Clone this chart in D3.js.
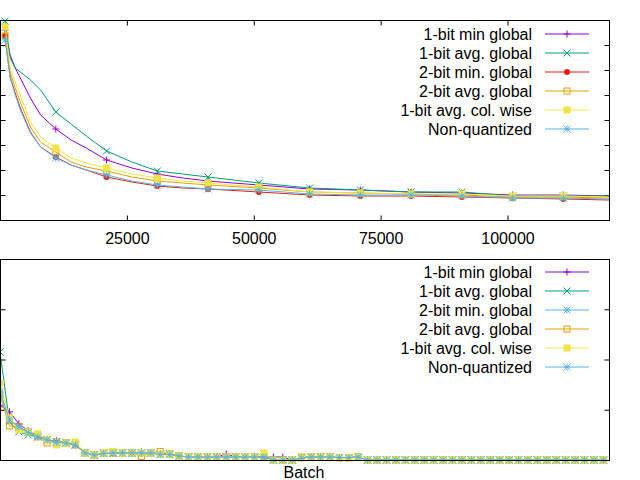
<!DOCTYPE html>
<html>
<head>
<meta charset="utf-8">
<script src="https://cdn.jsdelivr.net/npm/d3@7"></script>
<style>
  body { margin: 0; background: #fff; }
  svg { display: block; }
  text { font-family: "Liberation Sans", Arial, sans-serif; font-size: 16px; fill: #000; }
</style>
</head>
<body>
<svg id="chart"></svg>
<script>
// ---- data, top panel (x = batch) ----
const topBatch = [1000, 2000, 3000, 4000, 6000, 8000, 11000, 14000, 17000, 21000, 26000,
  31000, 36000, 41000, 51000, 61000, 71000, 81000, 91000, 101000, 111000, 120000];
const topMin1   = [7.60, 6.60, 6.08, 5.68, 4.88, 4.20, 3.64, 3.20, 2.88, 2.40, 2.08, 1.84, 1.68, 1.56, 1.40, 1.24, 1.20, 1.12, 1.08, 1.00, 1.00, 0.96];
const topAvg1   = [7.96, 6.48, 6.08, 5.92, 5.60, 5.20, 4.32, 3.84, 3.36, 2.76, 2.32, 1.96, 1.84, 1.72, 1.48, 1.28, 1.20, 1.12, 1.12, 0.96, 0.96, 0.96];
const topMin2   = [7.36, 5.72, 5.08, 4.48, 3.52, 2.92, 2.52, 2.20, 2.00, 1.72, 1.52, 1.36, 1.28, 1.24, 1.12, 1.00, 0.96, 0.96, 0.92, 0.88, 0.84, 0.80];
const topAvg2   = [7.36, 5.92, 5.28, 4.72, 3.72, 3.12, 2.72, 2.32, 2.12, 1.96, 1.72, 1.56, 1.48, 1.40, 1.28, 1.12, 1.08, 1.04, 1.00, 0.92, 0.92, 0.88];
const topCol1   = [7.72, 6.08, 5.52, 5.00, 3.92, 3.32, 2.88, 2.48, 2.28, 2.08, 1.84, 1.68, 1.56, 1.48, 1.32, 1.12, 1.08, 1.04, 1.04, 0.96, 0.96, 0.92];
const topNoQuant= [7.20, 5.68, 5.00, 4.40, 3.48, 2.92, 2.48, 2.20, 2.00, 1.80, 1.56, 1.40, 1.32, 1.24, 1.20, 1.04, 1.00, 1.00, 0.96, 0.88, 0.88, 0.84];
const topXTicks = [25000, 50000, 75000, 100000];
const topYTicks = [1, 2, 3, 4, 5, 6, 7];

// ---- data, bottom panel (one value per batch step) ----
const botMin1 = [1.09, 0.96, 0.72, 0.58, 0.48, 0.40, 0.38, 0.34, 0.30,
  0.14, 0.10, 0.14, 0.14, 0.14, 0.14, 0.16, 0.14, 0.12, 0.12,
  0.08, 0.06, 0.06, 0.06, 0.06, 0.12, 0.06, 0.06, 0.06, 0.06,
  0.06, 0.06, 0.00, 0.04, 0.06, 0.06, 0.06, 0.05, 0.05, 0.06,
  0, 0, 0, 0, 0, 0, 0, 0, 0, 0, 0, 0, 0, 0, 0, 0, 0, 0, 0, 0, 0, 0, 0, 0, 0, 0];
const botAvg1 = [2.15, 0.76, 0.56, 0.50, 0.46, 0.40, 0.36, 0.34, 0.30,
  0.14, 0.10, 0.14, 0.13, 0.14, 0.14, 0.14, 0.14, 0.12, 0.12,
  0.08, 0.06, 0.06, 0.06, 0.06, 0.06, 0.06, 0.06, 0.06, 0.06,
  0.00, 0.00, 0.00, 0.05, 0.06, 0.06, 0.06, 0.05, 0.05, 0.06,
  0, 0, 0, 0, 0, 0, 0, 0, 0, 0, 0, 0, 0, 0, 0, 0, 0, 0, 0, 0, 0, 0, 0, 0, 0, 0];
const botMin2 = [1.36, 0.82, 0.64, 0.56, 0.47, 0.41, 0.36, 0.35, 0.30,
  0.15, 0.10, 0.13, 0.14, 0.14, 0.13, 0.14, 0.14, 0.12, 0.11,
  0.08, 0.06, 0.06, 0.06, 0.06, 0.06, 0.06, 0.06, 0.06, 0.06,
  0.01, 0.00, 0.00, 0.05, 0.06, 0.06, 0.06, 0.05, 0.05, 0.05,
  0, 0, 0, 0, 0, 0, 0, 0, 0, 0, 0, 0, 0, 0, 0, 0, 0, 0, 0, 0, 0, 0, 0, 0, 0, 0];
const botAvg2 = [1.29, 0.68, 0.66, 0.56, 0.46, 0.34, 0.36, 0.34, 0.30,
  0.14, 0.10, 0.14, 0.14, 0.14, 0.14, 0.07, 0.14, 0.17, 0.12,
  0.08, 0.06, 0.06, 0.06, 0.06, 0.06, 0.06, 0.06, 0.06, 0.06,
  0.00, 0.00, 0.00, 0.06, 0.06, 0.06, 0.06, 0.04, 0.04, 0.06,
  0, 0, 0, 0, 0, 0, 0, 0, 0, 0, 0, 0, 0, 0, 0, 0, 0, 0, 0, 0, 0, 0, 0, 0, 0, 0];
const botCol1 = [1.53, 0.84, 0.60, 0.56, 0.52, 0.40, 0.30, 0.34, 0.36,
  0.14, 0.10, 0.14, 0.17, 0.14, 0.14, 0.14, 0.14, 0.12, 0.11,
  0.08, 0.06, 0.06, 0.06, 0.06, 0.06, 0.06, 0.06, 0.06, 0.14,
  0.00, 0.00, 0.00, 0.04, 0.06, 0.06, 0.06, 0.05, 0.05, 0.06,
  0, 0, 0, 0, 0, 0, 0, 0, 0, 0, 0, 0, 0, 0, 0, 0, 0, 0, 0, 0, 0, 0, 0, 0, 0, 0];
const botNoQuant = [1.33, 0.80, 0.66, 0.55, 0.46, 0.40, 0.35, 0.34, 0.30,
  0.14, 0.10, 0.13, 0.14, 0.14, 0.14, 0.14, 0.14, 0.11, 0.11,
  0.08, 0.06, 0.06, 0.06, 0.06, 0.06, 0.06, 0.06, 0.06, 0.06,
  0.00, 0.00, 0.00, 0.04, 0.06, 0.06, 0.06, 0.05, 0.05, 0.06,
  0, 0, 0, 0, 0, 0, 0, 0, 0, 0, 0, 0, 0, 0, 0, 0, 0, 0, 0, 0, 0, 0, 0, 0, 0, 0];
const botYTicks = [1, 2, 3];

const labels = ["1-bit min global", "1-bit avg. global", "2-bit min. global",
  "2-bit avg. global", "1-bit avg. col. wise", "Non-quantized"];

const width = 640, height = 480;
const svg = d3.select('#chart').attr('width', width).attr('height', height);

// marker shapes (gnuplot-like point types)
function drawMarker(g, type, x, y, color) {
  const s = 3.5;
  if (type === 'plus') {
    g.append('path').attr('d', `M${x - s},${y}H${x + s}M${x},${y - s}V${y + s}`)
      .attr('stroke', color).attr('fill', 'none');
  } else if (type === 'cross') {
    g.append('path').attr('d', `M${x - s},${y - s}L${x + s},${y + s}M${x - s},${y + s}L${x + s},${y - s}`)
      .attr('stroke', color).attr('fill', 'none');
  } else if (type === 'star') {
    g.append('path').attr('d', `M${x - s},${y}H${x + s}M${x},${y - s}V${y + s}M${x - s},${y - s}L${x + s},${y + s}M${x - s},${y + s}L${x + s},${y - s}`)
      .attr('stroke', color).attr('fill', 'none');
  } else if (type === 'circle') {
    g.append('circle').attr('cx', x).attr('cy', y).attr('r', 3).attr('fill', color);
  } else if (type === 'square') {
    g.append('rect').attr('x', x - 3).attr('y', y - 3).attr('width', 6).attr('height', 6)
      .attr('fill', 'none').attr('stroke', color);
  } else if (type === 'fsquare') {
    g.append('rect').attr('x', x - 3.5).attr('y', y - 3.5).attr('width', 7).attr('height', 7)
      .attr('fill', color);
  }
}

function drawPanel(cfg) {
  const g = svg.append('g');
  const x = d3.scaleLinear().domain(cfg.xDomain).range([0, 609]);
  const y = d3.scaleLinear().domain(cfg.yDomain).range([cfg.bottom, cfg.top]);

  // y ticks, both sides, pointing inward
  g.append('g').attr('transform', 'translate(0.5,0)')
    .call(d3.axisLeft(y).tickValues(cfg.yTicks).tickSize(-5).tickFormat(''))
    .call(a => a.select('.domain').remove());
  g.append('g').attr('transform', 'translate(609.5,0)')
    .call(d3.axisRight(y).tickValues(cfg.yTicks).tickSize(-5).tickFormat(''))
    .call(a => a.select('.domain').remove());

  if (cfg.xTicks) {
    g.append('g').attr('transform', `translate(0,${cfg.bottom + 0.5})`)
      .call(d3.axisBottom(x).tickValues(cfg.xTicks).tickSize(-5).tickPadding(12)
        .tickFormat(d3.format('d')))
      .call(a => a.select('.domain').remove())
      .call(a => a.selectAll('text').attr('font-size', 16)
        .attr('font-family', '"Liberation Sans", Arial, sans-serif').attr('fill', '#000'));
    g.append('g').attr('transform', `translate(0,${cfg.top + 0.5})`)
      .call(d3.axisTop(x).tickValues(cfg.xTicks).tickSize(-5).tickFormat(''))
      .call(a => a.select('.domain').remove());
  }

  const line = d3.line().x(d => x(d[0])).y(d => y(d[1]));

  cfg.series.forEach((s, i) => {
    const pts = cfg.xs.map((xv, j) => [xv, s.values[j]]);
    g.append('path').datum(pts)
      .attr('d', line).attr('fill', 'none')
      .attr('stroke', s.color).attr('stroke-width', 1);
    const mg = g.append('g');
    pts.filter(p => cfg.markAt(p[0])).forEach(p => drawMarker(mg, s.marker, x(p[0]), y(p[1]), s.color));

    // legend entry
    const ly = cfg.legendY + i * 19;
    g.append('text').attr('x', 532).attr('y', ly + 5.5)
      .attr('text-anchor', 'end').text(s.label);
    g.append('line').attr('x1', 545).attr('x2', 589).attr('y1', ly).attr('y2', ly)
      .attr('stroke', s.color);
    drawMarker(g, s.marker, 567, ly, s.color);
  });

  // frame
  g.append('rect').attr('x', 0.5).attr('y', cfg.top + 0.5)
    .attr('width', 609).attr('height', cfg.bottom - cfg.top)
    .attr('fill', 'none').attr('stroke', '#000');
}

drawPanel({
  top: 20, bottom: 220,
  xDomain: [0, 120000], yDomain: [0, 8],
  xTicks: topXTicks, yTicks: topYTicks,
  xs: topBatch,
  markAt: b => (b - 1000) % 10000 === 0,
  legendY: 34,
  series: [
    { label: labels[0], values: topMin1,    color: '#9400d3', marker: 'plus' },
    { label: labels[1], values: topAvg1,    color: '#009e73', marker: 'cross' },
    { label: labels[2], values: topMin2,    color: '#e51e10', marker: 'circle' },
    { label: labels[3], values: topAvg2,    color: '#e69f00', marker: 'square' },
    { label: labels[4], values: topCol1,    color: '#f0e442', marker: 'fsquare' },
    { label: labels[5], values: topNoQuant, color: '#56b4e9', marker: 'star' }
  ]
});

drawPanel({
  top: 259, bottom: 460,
  xDomain: [0, 64.6], yDomain: [0, 4],
  xTicks: null, yTicks: botYTicks,
  xs: d3.range(botNoQuant.length),
  markAt: () => true,
  legendY: 272,
  series: [
    { label: labels[0], values: botMin1,     color: '#9400d3', marker: 'plus' },
    { label: labels[1], values: botAvg1,     color: '#009e73', marker: 'cross' },
    { label: labels[2], values: botMin2,     color: '#56b4e9', marker: 'star' },
    { label: labels[3], values: botAvg2,     color: '#e69f00', marker: 'square' },
    { label: labels[4], values: botCol1,     color: '#f0e442', marker: 'fsquare' },
    { label: labels[5], values: botNoQuant,  color: '#56b4e9', marker: 'star' }
  ]
});

// x axis label
svg.append('text').attr('x', 304).attr('y', 478)
  .attr('text-anchor', 'middle').text('Batch');
</script>
</body>
</html>
